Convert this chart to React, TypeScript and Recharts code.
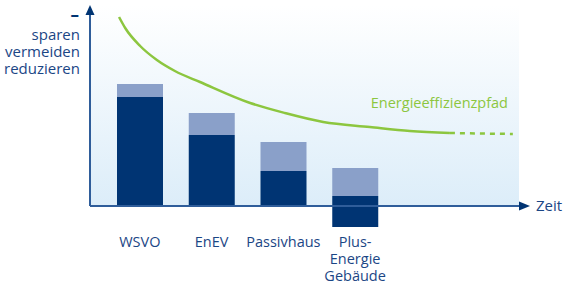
import { ComposedChart, Bar, Line, XAxis, YAxis, ReferenceArea, ReferenceLine, ReferenceDot } from 'recharts';

// Gebäudestandards (Kategorien) und ihre Beschriftung in Zeilen
const categories = ['WSVO', 'EnEV', 'Passivhaus', 'Plus-Energie Gebäude'];
const tickLines = [['WSVO'], ['EnEV'], ['Passivhaus'], ['Plus-', 'Energie', 'Gebäude']];

// Balkenanteile (dunkel = Basis, hell = Aufsatz, unter Null = Plus-Energie Überschuss)
const baseValues = [109, 71, 35, 10];
const belowZero = [0, 0, 0, -21];
const topValues = [13, 22, 29, 28];

// Energieeffizienzpfad (Zeit t 0..100), durchgezogen und gestrichelt
const pathT = [6.6, 8, 11.4, 15.2, 19.3, 25, 36.4, 44.3, 53, 63.6, 72.7, 81.8];
const pathV = [189, 178, 160, 146, 135, 124, 103, 93, 84, 79, 75, 73];
const trendT = [81.8, 96.1];
const trendV = [73, 72];

const yLabels = ['sparen', 'vermeiden', 'reduzieren'];

const barData = categories.map((name, i) => ({
  name,
  base: baseValues[i],
  below: belowZero[i],
  top: topValues[i],
}));
const pathData = pathT.map((t, i) => ({ t, v: pathV[i] }));
const trendData = trendT.map((t, i) => ({ t, v: trendV[i] }));

const BLUE_TEXT = '#1b4685';
const AXIS = '#2f5d9a';
const DARK = '#003473';
const LIGHT = '#8aa0c9';
const GREEN = '#8cc63f';
const FONT = '"Open Sans", sans-serif';

const CatTick = ({ x, y, payload }: any) => {
  const idx = categories.indexOf(payload.value);
  const lines = tickLines[idx] || [payload.value];
  return (
    <text x={x} y={y} textAnchor="middle" fill={BLUE_TEXT} fontSize={14.5} fontFamily={FONT}>
      {lines.map((l) => (
        <tspan key={l} x={x} dy={17}>
          {l}
        </tspan>
      ))}
    </text>
  );
};

export default function App() {
  return (
    <div style={{ position: 'absolute', left: 0, top: 0, background: '#fff' }}>
      <ComposedChart
        width={565}
        height={284}
        data={barData}
        stackOffset="sign"
        margin={{ top: 5, right: 35, bottom: 24, left: 90 }}
      >
        <defs>
          <linearGradient id="bgFade" x1="0" y1="0" x2="0" y2="1">
            <stop offset="0%" stopColor="#ffffff" />
            <stop offset="100%" stopColor="#dcedf9" />
          </linearGradient>
        </defs>
        <XAxis
          xAxisId="cat"
          dataKey="name"
          type="category"
          axisLine={false}
          tickLine={false}
          tickSize={0}
          tickMargin={0}
          height={30}
          padding={{ left: 14, right: 139 }}
          tick={<CatTick />}
          interval={0}
        />
        <XAxis xAxisId="t" dataKey="t" type="number" domain={[0, 100]} allowDataOverflow hide />
        <YAxis type="number" domain={[-24, 201]} allowDataOverflow hide />

        <ReferenceArea xAxisId="t" x1={0} x2={97.5} y1={0} y2={201} fill="url(#bgFade)" fillOpacity={1} stroke="none" ifOverflow="visible" />
        <ReferenceLine xAxisId="t" segment={[{ x: 0, y: 0 }, { x: 97.5, y: 0 }]} stroke={AXIS} strokeWidth={2} ifOverflow="visible" />
        <ReferenceLine xAxisId="t" segment={[{ x: 0, y: 0 }, { x: 0, y: 191 }]} stroke={AXIS} strokeWidth={2} ifOverflow="visible" />

        <Bar xAxisId="cat" dataKey="base" stackId="s" fill={DARK} barSize={46} isAnimationActive={false} />
        <Bar xAxisId="cat" dataKey="top" stackId="s" fill={LIGHT} barSize={46} isAnimationActive={false} />
        <Bar xAxisId="cat" dataKey="below" stackId="s" fill={DARK} barSize={46} isAnimationActive={false} />

        <Line xAxisId="t" data={pathData} dataKey="v" type="monotone" stroke={GREEN} strokeWidth={2.5} dot={false} isAnimationActive={false} />
        <Line xAxisId="t" data={trendData} dataKey="v" type="linear" stroke={GREEN} strokeWidth={2.5} strokeDasharray="5 5" dot={false} isAnimationActive={false} />

        <ReferenceDot
          xAxisId="t"
          x={97.5}
          y={0}
          ifOverflow="visible"
          shape={(p: any) => (
            <g>
              <polygon points={`${p.cx},${p.cy - 4.5} ${p.cx + 11},${p.cy} ${p.cx},${p.cy + 4.5}`} fill={DARK} />
              <text x={p.cx + 17} y={p.cy + 5} fill={BLUE_TEXT} fontSize={15} fontFamily={FONT}>Zeit</text>
            </g>
          )}
        />
        <ReferenceDot
          xAxisId="t"
          x={0}
          y={191}
          ifOverflow="visible"
          shape={(p: any) => (
            <g>
              <polygon points={`${p.cx - 4.5},${p.cy} ${p.cx},${p.cy - 10} ${p.cx + 4.5},${p.cy}`} fill={DARK} />
              <text x={p.cx - 11} y={p.cy + 6} textAnchor="end" fill={DARK} fontSize={17} fontWeight="bold" fontFamily={FONT}>–</text>
              {yLabels.map((l, i) => (
                <text key={l} x={p.cx - 10} y={p.cy + 25 + i * 17} textAnchor="end" fill={BLUE_TEXT} fontSize={15} fontFamily={FONT}>
                  {l}
                </text>
              ))}
            </g>
          )}
        />
        <ReferenceDot
          xAxisId="t"
          x={95}
          y={98}
          ifOverflow="visible"
          shape={(p: any) => (
            <text x={p.cx} y={p.cy} textAnchor="end" fill={GREEN} fontSize={14.5} fontFamily={FONT}>Energieeffizienzpfad</text>
          )}
        />
      </ComposedChart>
    </div>
  );
}
